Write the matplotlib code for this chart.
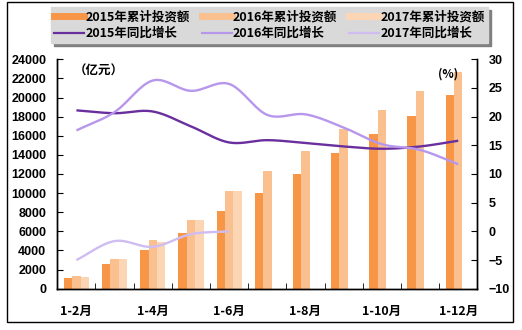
import numpy as np
import matplotlib.pyplot as plt
from matplotlib.patches import Rectangle
from matplotlib.lines import Line2D

plt.rcParams['font.family'] = ['Noto Sans CJK SC', 'DejaVu Sans']
plt.rcParams['font.weight'] = 'bold'

months = ['1-2月', '1-3月', '1-4月', '1-5月', '1-6月', '1-7月',
          '1-8月', '1-9月', '1-10月', '1-11月', '1-12月']

# cumulative investment (亿元)
inv_2015 = [1120, 2580, 4050, 5830, 8130, 10020, 12000, 14190, 16180, 18060, 20260]
inv_2016 = [1330, 3100, 5090, 7180, 10210, 12300, 14400, 16700, 18690, 20680, 22670]
inv_2017 = [1220, 3100, 4880, 7180, 10210]

# year-on-year growth (%)
yoy_2015 = [21.1, 20.6, 20.9, 18.3, 15.5, 15.9, 15.4, 14.8, 14.4, 14.8, 15.8]
yoy_2016 = [17.6, 20.8, 26.3, 24.5, 25.7, 20.3, 20.4, 18.1, 15.2, 14.2, 11.7]
yoy_2017 = [-5.0, -1.7, -2.7, -0.5, 0.0]

c_bar = ['#F79646', '#FAC090', '#FCD5B5']
c_line = ['#6A2F9E', '#B797EC', '#CFBDF2']


def smooth(x, y, n=20):
    # Catmull-Rom style smoothing like the office "smoothed line" option
    x = np.asarray(x, float)
    y = np.asarray(y, float)
    px = np.concatenate([[2 * x[0] - x[1]], x, [2 * x[-1] - x[-2]]])
    py = np.concatenate([[2 * y[0] - y[1]], y, [2 * y[-1] - y[-2]]])
    xs, ys = [], []
    for i in range(1, len(px) - 2):
        t = np.linspace(0, 1, n, endpoint=False)
        for arr, out in ((px, xs), (py, ys)):
            p0, p1, p2, p3 = arr[i - 1:i + 3]
            out.extend(0.5 * ((2 * p1) + (-p0 + p2) * t +
                              (2 * p0 - 5 * p1 + 4 * p2 - p3) * t ** 2 +
                              (-p0 + 3 * p1 - 3 * p2 + p3) * t ** 3))
    xs.append(x[-1])
    ys.append(y[-1])
    return xs, ys


fig = plt.figure(figsize=(5.22, 3.30), dpi=100)
ax = fig.add_axes([0.1098, 0.1252, 0.8046, 0.6951])
ax2 = ax.twinx()

w = 0.22
x = np.arange(len(months))
for k, vals in enumerate([inv_2015, inv_2016, inv_2017]):
    xi = np.arange(len(vals))
    ax.bar(xi + (k - 1) * w, vals, width=w, color=c_bar[k], linewidth=0, zorder=2)

for k, vals in enumerate([yoy_2015, yoy_2016, yoy_2017]):
    xs, ys = smooth(np.arange(len(vals)), vals)
    ax2.plot(xs, ys, color=c_line[k], lw=1.7, solid_capstyle='butt')

ax.set_xlim(-0.5, len(months) - 0.5)
ax.set_ylim(0, 24000)
ax.set_yticks(range(0, 24001, 2000))
ax2.set_ylim(-10, 30)
ax2.set_yticks(range(-10, 31, 5))

ax.set_xticks(x[::2])
ax.set_xticklabels(months[::2])
ax.set_xticks(np.arange(0.5, len(months) - 1, 1), minor=True)
ax.tick_params(axis='x', which='major', length=0, pad=12)
ax.tick_params(axis='x', which='minor', direction='in', length=4)
ax.tick_params(axis='y', direction='in', length=4, pad=8)
ax2.tick_params(axis='y', direction='in', length=4, pad=8)

for a in (ax, ax2):
    a.spines['top'].set_visible(False)
    for s in a.spines.values():
        s.set_linewidth(1.0)
for lab in ax.get_yticklabels() + ax2.get_yticklabels():
    lab.set_fontsize(9)
    lab.set_family(['Liberation Sans', 'Noto Sans CJK SC'])
for lab in ax.get_xticklabels():
    lab.set_fontsize(9)

ax.text(0.04, 0.975, '（亿元）', transform=ax.transAxes, fontsize=9,
        va='top', ha='left')
ax.text(0.955, 0.965, '(%)', transform=ax.transAxes, fontsize=8.5,
        va='top', ha='right')

handles = [Line2D([], [], color=c_bar[0], lw=5),
           Line2D([], [], color=c_line[0], lw=1.6),
           Line2D([], [], color=c_bar[1], lw=5),
           Line2D([], [], color=c_line[1], lw=1.6),
           Line2D([], [], color=c_bar[2], lw=5),
           Line2D([], [], color=c_line[2], lw=1.6)]
labels = ['2015年累计投资额', '2015年同比增长', '2016年累计投资额',
          '2016年同比增长', '2017年累计投资额', '2017年同比增长']
leg = fig.legend(handles, labels, ncol=3, loc='upper left',
                 bbox_to_anchor=(51 / 522, 1 - 43 / 330, 437 / 522, 36 / 330),
                 mode='expand', borderaxespad=0, borderpad=0.25,
                 frameon=True, fancybox=False, shadow={'color': '#7F7F7F', 'alpha': 1.0},
                 facecolor='#D9D9D9', edgecolor='#D9D9D9', framealpha=1,
                 handlelength=2.4, handletextpad=0.1, columnspacing=1.0,
                 labelspacing=0.3, prop={'size': 9, 'weight': 'bold'})

# outer frame
fig.add_artist(Rectangle((7 / 522, 1 - 322 / 330), 506 / 522, 320 / 330,
                         transform=fig.transFigure, facecolor='none',
                         edgecolor='black', lw=1.0, zorder=3))

fig.savefig('out.png', dpi=100)
